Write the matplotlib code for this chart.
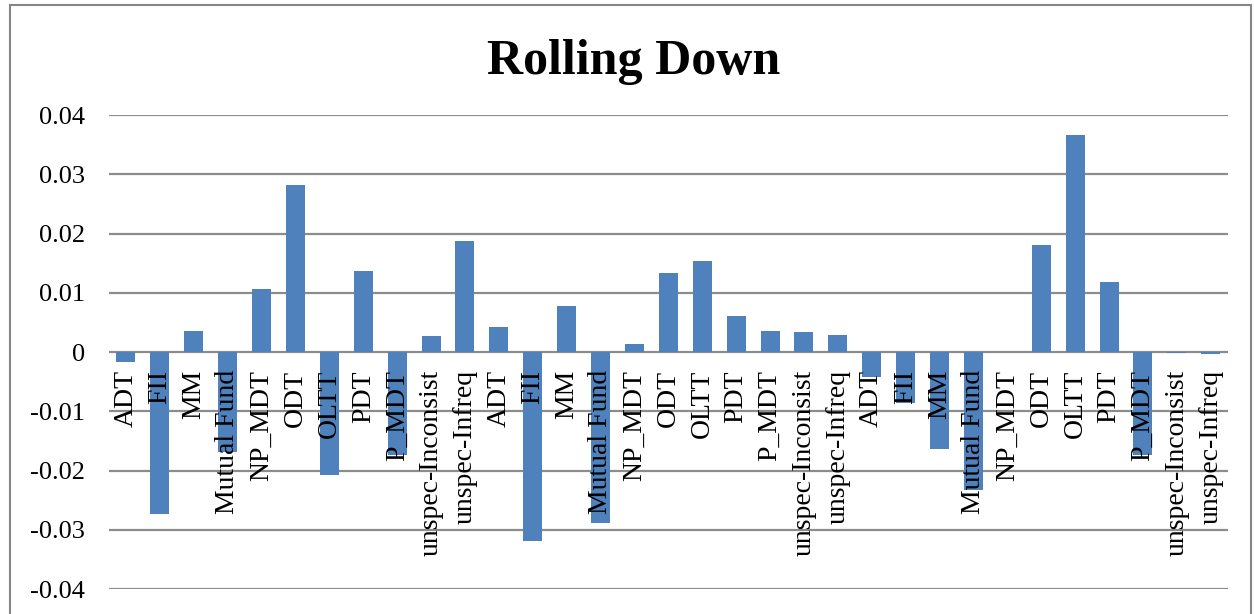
import numpy as np
import matplotlib
matplotlib.use("Agg")
import matplotlib.pyplot as plt
from matplotlib.patches import Rectangle

plt.rcParams["font.family"] = ["Liberation Serif", "DejaVu Serif"]
plt.rcParams["axes.unicode_minus"] = False

# three blocks of the same investor categories
groups = ["ADT", "FII", "MM", "Mutual Fund", "NP_MDT", "ODT", "OLTT",
          "PDT", "P_MDT", "unspec-Inconsist", "unspec-Infreq"]
block1 = [-0.0017, -0.0273, 0.0035, -0.0168, 0.0107, 0.0282, -0.0207,
          0.0137, -0.0174, 0.0027, 0.0187]
block2 = [0.0043, -0.0319, 0.0077, -0.0288, 0.0013, 0.0133, 0.0154,
          0.0060, 0.0036, 0.0033, 0.0028]
block3 = [-0.0042, -0.0086, -0.0164, -0.0233, 0.0, 0.0180, 0.0366,
          0.0118, -0.0173, -0.0002, -0.0003]

labels = groups * 3
values = block1 + block2 + block3
yticks = [-0.04, -0.03, -0.02, -0.01, 0, 0.01, 0.02, 0.03, 0.04]
ytick_labels = ["-0.04", "-0.03", "-0.02", "-0.01", "0",
                "0.01", "0.02", "0.03", "0.04"]

fig = plt.figure(figsize=(12.54, 6.14), dpi=100)
ax = fig.add_axes([0.0869, 0.0407, 0.8921, 0.772])

x = np.arange(len(values))
ax.bar(x, values, width=0.56, color="#4F81BD", zorder=3)

ax.set_xlim(-0.5, len(values) - 0.5)
ax.set_ylim(-0.04, 0.04)
ax.set_yticks(yticks)
ax.set_yticklabels(ytick_labels, fontsize=19)
ax.yaxis.grid(True, color="#8C8C8C", linewidth=1.6, zorder=0)
ax.set_axisbelow(True)
ax.tick_params(axis="y", length=0, pad=17)
ax.set_xticks([])
for s in ax.spines.values():
    s.set_visible(False)

# category labels hang just under the zero line, on top of the bars
for xi, lab in zip(x, labels):
    ax.annotate(lab, xy=(xi, 0), xytext=(0, -13), textcoords="offset points",
                rotation=90, ha="center", va="top", fontsize=20, zorder=5)

fig.text(0.505, 0.88, "Rolling Down", ha="center", va="baseline",
         fontsize=36, fontweight="bold")

# chart frame
fig.patches.append(Rectangle((0.008, -0.05), 0.99, 1.042, transform=fig.transFigure,
                             fill=False, edgecolor="#868686", linewidth=1.5))

fig.savefig("out.png", dpi=100)
